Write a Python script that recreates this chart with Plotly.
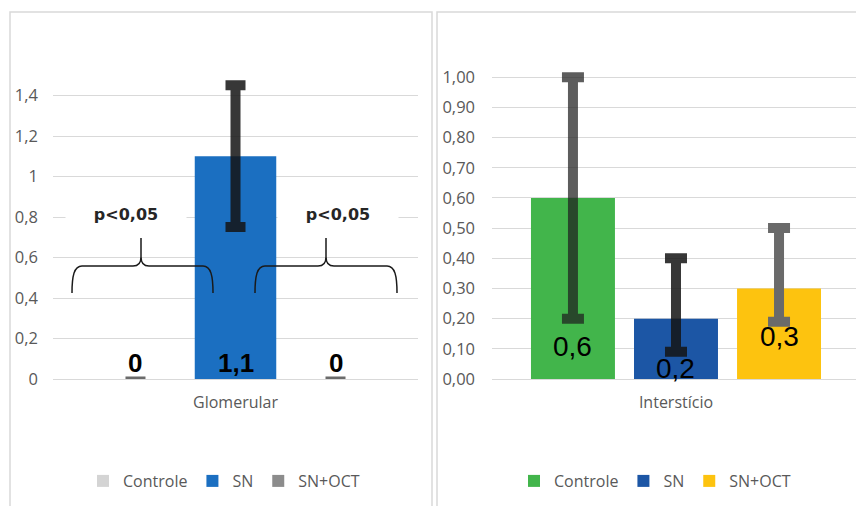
import plotly.graph_objects as go

W, H = 856, 506

# ---- data -------------------------------------------------------------
groups = ["Controle", "SN", "SN+OCT"]

glom_category = "Glomerular"
glom_values = [0.0, 1.1, 0.0]
glom_error = [0.0, 0.35, 0.0]
glom_ticks = [0, 0.2, 0.4, 0.6, 0.8, 1.0, 1.2, 1.4]

inter_category = "Interstício"
inter_values = [0.6, 0.2, 0.3]
inter_error_plus = [0.4, 0.2, 0.2]
inter_error_minus = [0.4, 0.11, 0.11]
inter_ticks = [0.0, 0.1, 0.2, 0.3, 0.4, 0.5, 0.6, 0.7, 0.8, 0.9, 1.0]

significance = "p<0,05"

# ---- styles -----------------------------------------------------------
glom_colors = ["#d4d4d4", "#1b6fc1", "#8c8c8c"]
glom_err_colors = ["#6b6b6b", "rgba(20,20,20,0.85)", "#6b6b6b"]
glom_err_thickness = [5, 10, 5]

inter_colors = ["#42b54b", "#1c56a5", "#fdc30f"]
inter_err_colors = ["rgba(30,30,30,0.72)", "rgba(20,20,20,0.85)", "#6a6a6a"]

TEXT_GRAY = "#595959"
GRID = "#d9d9d9"
TICK_FONT = dict(family="Open Sans", size=16.5, color=TEXT_GRAY)

BARGAP = 0.178
BARGROUPGAP = 0.185

# plot areas in pixels (left, right, bottom, top)
glom_box = (53, 418, 379, 55)
inter_box = (492, 856, 379, 47)
glom_range = [0, 1.6]
inter_range = [0, 1.1]
inter_xrange = [-0.4893, 0.4787]


def px(x):
    return x / W


def py(y):
    return 1 - y / H


def fmt(v):
    return f"{v:g}".replace(".", ",")


fig = go.Figure()

for i, g in enumerate(groups):
    fig.add_trace(go.Bar(
        x=[glom_category], y=[glom_values[i]], name=g,
        marker=dict(color=glom_colors[i], line=dict(width=0)),
        error_y=dict(type="data", array=[glom_error[i]], visible=True,
                     color=glom_err_colors[i], thickness=glom_err_thickness[i], width=10),
        cliponaxis=False,
        xaxis="x", yaxis="y", legend="legend", hoverinfo="skip",
    ))

for i, g in enumerate(groups):
    fig.add_trace(go.Bar(
        x=[inter_category], y=[inter_values[i]], name=g,
        marker=dict(color=inter_colors[i], line=dict(width=0)),
        error_y=dict(type="data", symmetric=False, array=[inter_error_plus[i]],
                     arrayminus=[inter_error_minus[i]], visible=True,
                     color=inter_err_colors[i], thickness=10, width=11),
        cliponaxis=False,
        xaxis="x2", yaxis="y2", legend="legend2", hoverinfo="skip",
    ))

# slot widths (pixels) of each bar within its group
glom_slot = (glom_box[1] - glom_box[0]) * (1 - BARGAP) / 3
inter_cat_px = (inter_box[1] - inter_box[0]) / (inter_xrange[1] - inter_xrange[0])
inter_slot = inter_cat_px * (1 - BARGAP) / 3

annotations = []
# value labels
for i, v in enumerate(glom_values):
    annotations.append(dict(
        x=glom_category, y=0, xref="x", yref="y", xshift=(i - 1) * glom_slot,
        yshift=16, yanchor="middle", showarrow=False, text=fmt(v),
        font=dict(family="Liberation Sans", size=26, color="#000000", weight="bold"),
    ))
inter_label_shift = [33, 11, 43]
for i, v in enumerate(inter_values):
    annotations.append(dict(
        x=inter_category, y=0, xref="x2", yref="y2", xshift=(i - 1) * inter_slot,
        yshift=inter_label_shift[i], yanchor="middle", showarrow=False, text=fmt(v),
        font=dict(family="Liberation Sans", size=28, color="#000000"),
    ))

# significance notes above the braces
for cx in (126, 338):
    annotations.append(dict(
        x=px(cx), y=py(214), xref="paper", yref="paper", showarrow=False,
        text=significance, width=118, height=24, bgcolor="#ffffff",
        xanchor="center", yanchor="middle",
        font=dict(family="DejaVu Sans", size=16, color="#262626", weight="bold"),
    ))


def brace(x0, x1, xm, y_bar, y_peak, y_end):
    r = 10
    pts = [
        f"M{px(x0)},{py(y_end)}",
        f"C{px(x0)},{py(y_bar + 10)} {px(x0 + 2)},{py(y_bar)} {px(x0 + r)},{py(y_bar)}",
        f"L{px(xm - 8)},{py(y_bar)}",
        f"C{px(xm - 2)},{py(y_bar)} {px(xm)},{py(y_bar - 3)} {px(xm)},{py(y_bar - 9)}",
        f"L{px(xm)},{py(y_peak)}",
        f"M{px(xm)},{py(y_bar - 9)}",
        f"C{px(xm)},{py(y_bar - 3)} {px(xm + 2)},{py(y_bar)} {px(xm + 8)},{py(y_bar)}",
        f"L{px(x1 - r)},{py(y_bar)}",
        f"C{px(x1 - 2)},{py(y_bar)} {px(x1)},{py(y_bar + 10)} {px(x1)},{py(y_end)}",
    ]
    return " ".join(pts)


shapes = [
    # chart frames
    dict(type="rect", xref="paper", yref="paper", x0=px(10), x1=px(432), y0=-0.05, y1=py(12),
         line=dict(color=GRID, width=1.5), layer="below"),
    dict(type="rect", xref="paper", yref="paper", x0=px(437), x1=1.05, y0=-0.05, y1=py(12),
         line=dict(color=GRID, width=1.5), layer="below"),
    dict(type="path", xref="paper", yref="paper", path=brace(72, 213, 141, 266, 238, 293),
         line=dict(color="#1a1a1a", width=1.5)),
    dict(type="path", xref="paper", yref="paper", path=brace(255, 397, 326, 266, 238, 293),
         line=dict(color="#1a1a1a", width=1.5)),
]

fig.update_layout(
    width=W, height=H, margin=dict(l=0, r=0, t=0, b=0, autoexpand=False),
    paper_bgcolor="#ffffff", plot_bgcolor="#ffffff",
    barmode="group", bargap=BARGAP, bargroupgap=BARGROUPGAP,
    separators=", ",
    showlegend=True,
    xaxis=dict(domain=[px(glom_box[0]), px(glom_box[1])], anchor="y", range=[-0.5, 0.5],
               showgrid=False, showline=False, zeroline=False, ticks="",
               tickfont=dict(family="Open Sans", size=16, color=TEXT_GRAY),
               ticklabelstandoff=12),
    yaxis=dict(domain=[py(glom_box[2]), py(glom_box[3])], anchor="x", range=glom_range,
               tickvals=glom_ticks, showgrid=True, gridcolor=GRID, gridwidth=1,
               zeroline=True, zerolinecolor=GRID, zerolinewidth=1, showline=False,
               ticks="", tickfont=TICK_FONT, ticklabelstandoff=14),
    xaxis2=dict(domain=[px(inter_box[0]), px(inter_box[1])], anchor="y2", range=inter_xrange,
                showgrid=False, showline=False, zeroline=False, ticks="",
                tickfont=dict(family="Open Sans", size=16, color=TEXT_GRAY),
                ticklabelstandoff=12),
    yaxis2=dict(domain=[py(inter_box[2]), py(inter_box[3])], anchor="x2", range=inter_range,
                tickvals=inter_ticks, tickformat=".2f", showgrid=True, gridcolor=GRID,
                gridwidth=1, zeroline=True, zerolinecolor=GRID, zerolinewidth=1,
                showline=False, ticks="", tickfont=TICK_FONT, ticklabelstandoff=16),
    legend=dict(orientation="h", x=px(224), xanchor="center", y=py(481), yanchor="middle",
                font=dict(family="Open Sans", size=16, color=TEXT_GRAY),
                bgcolor="rgba(0,0,0,0)"),
    legend2=dict(orientation="h", x=px(655), xanchor="center", y=py(481), yanchor="middle",
                 font=dict(family="Open Sans", size=16, color=TEXT_GRAY),
                 bgcolor="rgba(0,0,0,0)"),
    annotations=annotations,
    shapes=shapes,
)

fig.write_html("out.html")
